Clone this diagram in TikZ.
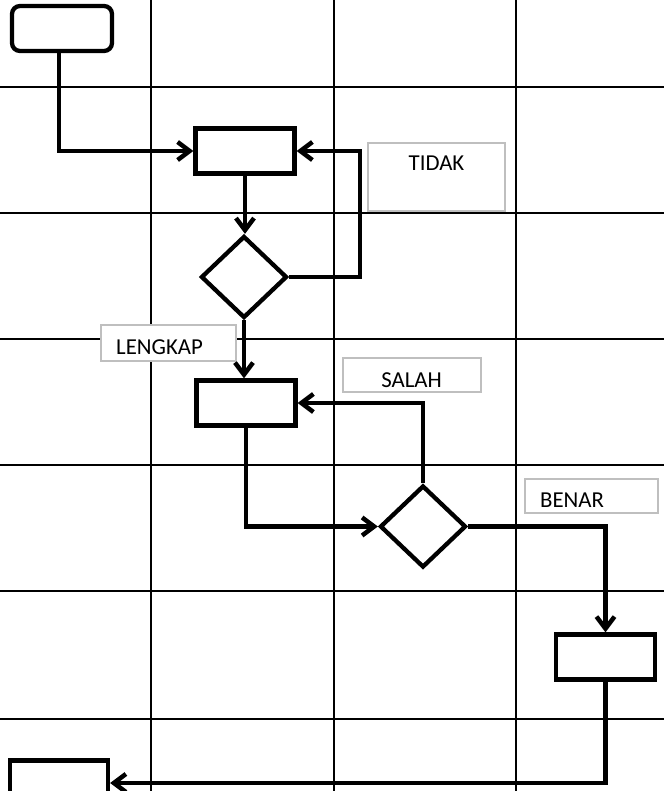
\documentclass[tikz,border=0pt]{standalone}
\usepackage{fontspec}
\setmainfont{Carlito}
\usetikzlibrary{shapes.geometric,arrows.meta}
\definecolor{lblgray}{HTML}{BFBFBF}
\begin{document}
\begin{tikzpicture}[x=1pt,y=-1pt,
  gridline/.style={line width=2pt,black},
  flow/.style={line width=4.5pt,black,-{Straight Barb[length=12pt,width=18pt]}},
  box/.style={draw,line width=4.3pt,fill=white,minimum width=99pt,minimum height=45pt,inner sep=0pt},
  startbox/.style={box,rounded corners=8pt,minimum width=100pt},
  dia/.style={diamond,draw,line width=4.3pt,fill=white,minimum width=86pt,minimum height=82pt,inner sep=0pt},
  lbl/.style={draw=lblgray,line width=1.7pt,fill=white,inner sep=0pt},
  lbltext/.style={font=\fontsize{22.8}{27}\selectfont,inner sep=0pt}]
\useasboundingbox (0,0) rectangle (664,791);
\clip (0,0) rectangle (664,791);
% grid
\foreach \y in {87,213,339,465,591,719} \draw[gridline] (0,\y) -- (664,\y);
\foreach \x in {151,334,516} \draw[gridline] (\x,0) -- (\x,791);
% label boxes
\node[lbl,minimum width=137pt,minimum height=68pt] (ltidak) at (436.5,177) {};
\node[lbl,minimum width=135pt,minimum height=36pt] (llengkap) at (168.5,343) {};
\node[lbl,minimum width=138pt,minimum height=34pt] (lsalah) at (412,375) {};
\node[lbl,minimum width=133pt,minimum height=34pt] (lbenar) at (591.5,496) {};
\node[lbltext,anchor=base] (ttidak) at (436.5,171) {TIDAK};
\node[lbltext,anchor=base west] (tlengkap) at (116,354) {LENGKAP};
\node[lbltext,anchor=base] (tsalah) at (411.5,387) {SALAH};
\node[lbltext,anchor=base west] (tbenar) at (540,507) {BENAR};
% shapes
\node[startbox] (start) at (62,28.5) {};
\node[box] (r2) at (245,151) {};
\node[dia] (d1) at (244,277) {};
\node[box] (r3) at (246,403) {};
\node[dia] (d2) at (423,526.5) {};
\node[box] (r4) at (605.5,657) {};
\node[box,minimum width=98pt] (r5) at (59,783) {};
\coordinate (c1) at (360,151);
% connectors
\draw[flow] ([xshift=-3pt]start.south) |- (r2.west);
\draw[flow] (r2.south) -- (r2.south |- d1.north);
\draw[flow] (d1.east) -| (c1) -- (r2.east);
\draw[flow] (d1.south) -- (d1.south |- r3.north);
\draw[flow] (r3.south) |- (d2.west);
\draw[flow] (d2.north) |- (r3.east);
\draw[flow] (d2.east) -| (r4.north);
\draw[flow] (r4.south) |- (r5.east);
\end{tikzpicture}
\end{document}
